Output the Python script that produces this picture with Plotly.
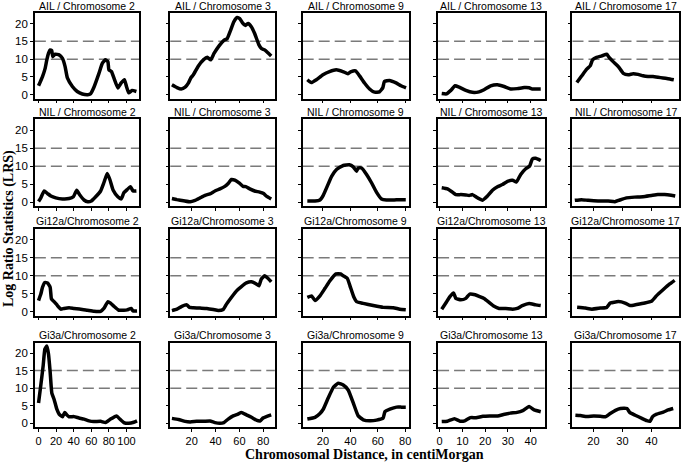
import plotly.graph_objects as go

# ---------------- data ----------------
row_labels = ["AIL / Chromosome ", "NIL / Chromosome ", "Gi12a/Chromosome ", "Gi3a/Chromosome "]
chromosomes = ["2", "3", "9", "13", "17"]
x_tickvals = [[0, 20, 40, 60, 80, 100], [20, 40, 60, 80], [20, 40, 60, 80], [0, 10, 20, 30, 40], [20, 30, 40]]
x_ranges = [[-4.2, 114.7], [2, 89.7], [5.2, 82.9], [-0.7, 46.1], [12.8, 49.5]]
y_tickvals = [0, 5, 10, 15, 20]
threshold_levels = [10, 15]

ail_chr2_x = [0, 4.5, 7.5, 9.4, 11.3, 13.2, 15, 16.2, 18.9, 23.4, 27.2, 30.2, 32.8, 38.5, 44, 49.8, 56, 59, 63, 68.7, 72.5, 76, 78.9, 80, 83, 85.7, 90.2, 94, 97.7, 100, 102.6, 106.4, 111.3]
ail_chr2_y = [2.5, 5.1, 7.4, 9.8, 11.6, 12.6, 12.4, 10.7, 11.4, 11.2, 10.2, 7.9, 4.7, 2.3, 0.9, 0.2, 0.0, 0.2, 2.1, 6.0, 8.8, 9.8, 9.3, 7.0, 6.5, 4.7, 1.9, 3.3, 4.2, 2.3, 0.5, 1.2, 0.9]
ail_chr3_x = [3.4, 7.6, 11.2, 14.5, 17.3, 19.2, 21.4, 25.6, 29.8, 33.1, 35.9, 38.7, 43.1, 47, 49.8, 52.6, 55.3, 58.1, 60.3, 62.6, 64.8, 67.3, 70, 72.8, 76.4, 78.4, 81.2, 83.9, 86.7]
ail_chr3_y = [2.8, 2.0, 1.6, 2.1, 3.3, 4.7, 5.6, 8.1, 9.8, 10.5, 9.8, 11.6, 13.8, 15.3, 15.8, 18.1, 20.5, 21.7, 21.4, 20.2, 19.5, 20.0, 19.1, 17.2, 14.0, 13.0, 12.6, 11.8, 10.9]
ail_chr9_x = [8.6, 11.5, 15.2, 20, 24.8, 29.7, 34.5, 38.2, 40.6, 43.8, 46.7, 50.3, 54, 57.6, 61.2, 63.6, 64.8, 68.5, 73.3, 76.9, 80.6]
ail_chr9_y = [4.2, 3.4, 4.2, 5.6, 6.5, 7.0, 6.5, 5.9, 6.5, 6.7, 5.3, 3.3, 1.6, 0.7, 0.8, 1.9, 3.7, 4.0, 3.3, 2.5, 1.9]
ail_chr13_x = [0.9, 3, 4.9, 6.8, 8.6, 11.5, 14.4, 17.3, 19.5, 22.4, 25.4, 28.3, 31.2, 34.1, 37.1, 39.3, 40.7, 44.4]
ail_chr13_y = [0.3, 0.2, 1.2, 2.5, 2.1, 1.2, 0.65, 0.8, 1.4, 2.5, 2.8, 2.3, 1.6, 1.7, 2.0, 1.95, 1.6, 1.6]
ail_chr17_x = [14.3, 16, 17.7, 18.9, 19.7, 21.1, 22.9, 24.6, 25.4, 26.8, 28.6, 30.3, 32, 33.7, 35.4, 37.1, 38.8, 40.5, 42.3, 44, 45.7, 47.7]
ail_chr17_y = [3.4, 5.3, 7.2, 8.1, 9.8, 10.5, 10.9, 11.4, 10.5, 9.3, 7.9, 6.0, 5.6, 5.9, 5.7, 5.3, 5.1, 5.1, 4.9, 4.7, 4.5, 4.2]

nil_chr2_x = [0, 2.6, 6.4, 10.2, 14, 19.6, 27.2, 34.7, 39.6, 43.4, 47.2, 51.7, 56, 60, 65, 70.6, 74.3, 78.1, 81.1, 84.9, 90.2, 94, 97, 100.8, 104.5, 107.5, 111.3]
nil_chr2_y = [0.2, 1.2, 3.1, 2.4, 1.7, 1.2, 0.9, 1.0, 1.5, 3.3, 1.9, 0.6, 0.1, 0.3, 1.5, 3.1, 5.4, 8.0, 6.3, 3.3, 1.5, 0.9, 2.6, 3.5, 4.3, 3.1, 3.1]
nil_chr3_x = [3.4, 7.6, 13.1, 18.7, 22.8, 27, 31.2, 35.3, 39.5, 43.7, 47.8, 50.6, 53.3, 56.2, 60.3, 63.1, 65.3, 68.7, 72.8, 77, 80.3, 82.6, 86.7]
nil_chr3_y = [1.0, 0.7, 0.4, 0.1, 0.5, 1.2, 1.9, 2.3, 3.1, 3.7, 4.4, 5.2, 6.3, 6.1, 5.2, 4.4, 4.3, 3.7, 3.1, 2.8, 2.4, 1.7, 0.9]
nil_chr9_x = [8.6, 14.2, 17.8, 20.2, 23.1, 26.3, 29.9, 34.8, 39.2, 42.1, 44.5, 45.7, 48.2, 51.8, 55.4, 59, 62.7, 66.3, 71.2, 76, 80.4]
nil_chr9_y = [0.3, 0.3, 0.6, 1.9, 4.4, 7.2, 9.1, 10.2, 10.4, 9.8, 8.6, 9.5, 9.5, 7.7, 5.4, 2.8, 0.9, 0.6, 0.6, 0.7, 0.7]
nil_chr13_x = [0.9, 3.4, 5.6, 7.1, 9.3, 11.5, 12.9, 14.4, 16.6, 18.8, 21, 23.2, 25.4, 27.6, 29.8, 32, 33.7, 35.6, 37.8, 39.5, 40.7, 42.2, 44.4]
nil_chr13_y = [4.0, 3.7, 2.8, 2.1, 2.1, 2.0, 1.85, 2.1, 1.2, 0.55, 1.7, 3.3, 4.3, 4.9, 5.8, 6.1, 5.6, 7.7, 9.3, 10.0, 12.0, 12.2, 11.6]
nil_chr17_x = [13.6, 15.9, 18.2, 21.6, 25.1, 27.4, 29.1, 31.4, 34.2, 37.1, 40, 42.2, 44.5, 46.8, 48.2]
nil_chr17_y = [0.5, 0.7, 0.5, 0.3, 0.3, 0.1, 0.6, 1.2, 1.4, 1.5, 1.85, 2.1, 2.1, 1.9, 1.7]

gi12a_chr2_x = [0, 2.6, 4.5, 7.2, 10.2, 13.2, 14.7, 17.7, 21.5, 25.3, 29, 34.7, 40.4, 47.9, 55.5, 63, 70.6, 74.3, 78.9, 81.9, 85.7, 91.3, 97, 100.8, 105.3, 107.5, 112]
gi12a_chr2_y = [3.1, 4.9, 6.8, 8.1, 8.0, 6.8, 3.5, 2.8, 1.7, 0.7, 0.9, 1.1, 0.9, 0.7, 0.4, 0.1, 0.1, 0.9, 2.8, 2.4, 1.5, 0.4, 0.4, 0.5, 0.9, 0.2, 0.2]
gi12a_chr3_x = [3.4, 7.6, 11.7, 15.9, 18.1, 21.4, 27, 32.6, 38.1, 42.3, 46.4, 49.2, 53.4, 57.6, 61.7, 65.9, 70.1, 74.2, 76.4, 78.4, 81.2, 83.9, 86.7]
gi12a_chr3_y = [0.3, 0.7, 1.5, 1.9, 1.2, 1.1, 1.0, 0.9, 0.6, 0.3, 0.6, 2.1, 4.0, 5.8, 7.0, 8.0, 8.3, 7.7, 7.2, 9.1, 10.0, 9.3, 8.3]
gi12a_chr9_x = [8.6, 11.7, 14.2, 17.8, 21.5, 25.1, 29.5, 32.9, 34.8, 37.7, 39.7, 42.6, 44.5, 49.4, 56.7, 63.9, 71.2, 76, 80.4]
gi12a_chr9_y = [4.0, 4.4, 3.1, 4.4, 6.5, 8.6, 10.5, 10.5, 10.0, 9.3, 7.2, 4.0, 2.8, 2.3, 1.7, 1.2, 1.1, 0.7, 0.55]
gi12a_chr13_x = [0.9, 2.7, 4.5, 6.1, 7.1, 9.3, 11.5, 13.2, 15.6, 17.6, 19.5, 21.7, 23.9, 26.1, 29, 32, 34.1, 36.3, 39.3, 42.2, 44.4]
gi12a_chr13_y = [0.7, 2.4, 4.2, 5.2, 3.7, 3.3, 3.7, 4.9, 4.7, 4.2, 3.7, 2.6, 1.5, 0.9, 0.9, 0.7, 0.9, 1.7, 2.3, 1.9, 1.7]
gi12a_chr17_x = [14.4, 17.2, 19.5, 22.4, 24.6, 25.8, 28.6, 30.9, 32.6, 34.9, 37.7, 40, 41.7, 44, 46.3, 48]
gi12a_chr17_y = [1.2, 1.0, 0.7, 1.0, 1.2, 2.4, 2.8, 2.4, 1.7, 2.0, 2.4, 2.9, 4.4, 6.1, 7.7, 8.7]

gi3a_chr2_x = [0, 2.6, 5.3, 7.2, 9.4, 11.3, 13.2, 15.1, 17.7, 20.8, 23.4, 27.2, 29.8, 32.1, 34.7, 40.4, 46, 51.7, 57.4, 63, 70.6, 76.2, 81.9, 88.7, 92.5, 97, 102.6, 108.3, 112]
gi3a_chr2_y = [5.8, 10.9, 16.5, 21.1, 22.0, 19.7, 14.6, 8.6, 6.8, 4.0, 2.6, 1.85, 3.1, 2.4, 1.85, 1.9, 1.5, 1.2, 0.7, 0.5, 0.55, 0.2, 1.2, 2.1, 1.2, 0.2, 0.0, 0.3, 0.7]
gi3a_chr3_x = [3.4, 9, 14.5, 18.7, 24.2, 29.8, 35.3, 39.5, 43.7, 47, 50.6, 54.8, 58.9, 61.7, 65.9, 70.1, 74.2, 77.6, 79.8, 83.1, 86.7]
gi3a_chr3_y = [1.4, 1.1, 0.55, 0.4, 0.55, 0.55, 0.65, 0.2, 0.0, 0.2, 1.2, 2.1, 2.6, 3.1, 2.4, 1.7, 0.9, 0.7, 1.5, 2.0, 2.4]
gi3a_chr9_x = [8.6, 14.2, 17.8, 20.2, 23.8, 27.5, 31.1, 34.8, 38.4, 42.1, 45.7, 49.4, 54.2, 59.1, 63.9, 65.2, 68.8, 73.7, 77.3, 80.4]
gi3a_chr9_y = [1.2, 1.7, 2.8, 4.0, 7.2, 10.2, 11.4, 10.9, 9.5, 5.8, 2.1, 1.0, 0.7, 0.9, 1.5, 3.3, 4.0, 4.6, 4.6, 4.6]
gi3a_chr13_x = [0.9, 3.4, 6.5, 9, 11, 13.5, 16, 19, 22, 25.5, 28, 31, 34, 36.5, 39.3, 41.5, 44.4]
gi3a_chr13_y = [0.5, 0.6, 1.3, 0.6, 0.7, 1.6, 1.6, 2.0, 2.1, 2.1, 2.5, 2.9, 3.1, 3.6, 4.8, 3.8, 3.3]
gi3a_chr17_x = [13.8, 15.5, 17.8, 20.1, 22.4, 24.1, 25.8, 27.6, 29.3, 31.6, 32.5, 34.4, 36.7, 38.4, 39.5, 40.4, 41.8, 44.1, 45.8, 47.5]
gi3a_chr17_y = [2.3, 2.2, 1.9, 2.1, 2.0, 1.85, 2.8, 3.7, 4.2, 4.2, 3.1, 2.3, 1.4, 0.75, 0.55, 1.9, 2.6, 3.2, 3.8, 4.2]

series = [
    [(ail_chr2_x, ail_chr2_y), (ail_chr3_x, ail_chr3_y), (ail_chr9_x, ail_chr9_y), (ail_chr13_x, ail_chr13_y), (ail_chr17_x, ail_chr17_y)],
    [(nil_chr2_x, nil_chr2_y), (nil_chr3_x, nil_chr3_y), (nil_chr9_x, nil_chr9_y), (nil_chr13_x, nil_chr13_y), (nil_chr17_x, nil_chr17_y)],
    [(gi12a_chr2_x, gi12a_chr2_y), (gi12a_chr3_x, gi12a_chr3_y), (gi12a_chr9_x, gi12a_chr9_y), (gi12a_chr13_x, gi12a_chr13_y), (gi12a_chr17_x, gi12a_chr17_y)],
    [(gi3a_chr2_x, gi3a_chr2_y), (gi3a_chr3_x, gi3a_chr3_y), (gi3a_chr9_x, gi3a_chr9_y), (gi3a_chr13_x, gi3a_chr13_y), (gi3a_chr17_x, gi3a_chr17_y)],
]

# ---------------- layout geometry (pixels) ----------------
W, H = 685, 464
col_px = [(34, 139), (170, 275), (303, 410), (439, 546), (574, 681)]
row_px = [(13, 99), (120, 207), (230, 317), (344, 429)]
title_offsets = [7, 8, 8, 8]

def fx(px):
    return px / W

def fy(py):
    return 1 - py / H

fig = go.Figure()
layout = dict(
    width=W, height=H,
    margin=dict(l=0, r=0, t=0, b=0),
    paper_bgcolor="white", plot_bgcolor="white",
    showlegend=False,
    font=dict(family="Liberation Sans, Arial, sans-serif", size=11, color="black"),
)
annotations = []
shapes = []

for i in range(4):
    for j in range(5):
        idx = i * 5 + j + 1
        s = "" if idx == 1 else str(idx)
        xs, ys = series[i][j]
        fig.add_trace(go.Scatter(
            x=xs, y=ys, mode="lines",
            line=dict(color="black", width=3.5, shape="spline", smoothing=0.4),
            xaxis="x" + s, yaxis="y" + s, hoverinfo="skip",
        ))
        x0, x1 = col_px[j]
        y0, y1 = row_px[i]
        layout["xaxis" + s] = dict(
            domain=[fx(x0), fx(x1)], anchor="y" + s, range=x_ranges[j],
            tickvals=x_tickvals[j], showticklabels=(i == 3), tickangle=0,
            ticks="outside", ticklen=3, tickwidth=1, tickcolor="black",
            showline=True, linecolor="black", linewidth=1.5, mirror=True,
            showgrid=False, zeroline=False, fixedrange=True,
            tickfont=dict(size=11),
        )
        layout["yaxis" + s] = dict(
            domain=[fy(y1), fy(y0)], anchor="x" + s, range=[-1.1, 23],
            tickvals=y_tickvals, showticklabels=(j == 0),
            ticks="outside", ticklen=3, tickwidth=1, tickcolor="black",
            showline=True, linecolor="black", linewidth=1.5, mirror=True,
            showgrid=False, zeroline=False, fixedrange=True,
            tickfont=dict(size=11.5),
        )
        for lv in threshold_levels:
            shapes.append(dict(
                type="line", xref="x" + s + " domain", x0=0, x1=1,
                yref="y" + s, y0=lv, y1=lv, layer="below",
                line=dict(color="#7a7a7a", width=1.5, dash="11px,5px"),
            ))
        annotations.append(dict(
            text=row_labels[i] + chromosomes[j], xref="paper", yref="paper",
            x=fx((x0 + x1) / 2), y=fy(y0 - title_offsets[i]), xanchor="center", yanchor="middle",
            showarrow=False, font=dict(size=10.5, color="black"), borderpad=0,
        ))

annotations.append(dict(
    text="<b>Chromosomal Distance, in centiMorgan</b>", xref="paper", yref="paper",
    x=fx(365), y=fy(456), xanchor="center", yanchor="middle", showarrow=False,
    font=dict(family="Liberation Serif, Times New Roman, serif", size=14, color="black"),
    borderpad=0,
))
annotations.append(dict(
    text="<b>Log Ratio Statistics (LRS)</b>", xref="paper", yref="paper",
    x=fx(8), y=fy(229), xanchor="center", yanchor="middle", showarrow=False, textangle=-90,
    font=dict(family="Liberation Serif, Times New Roman, serif", size=14, color="black"),
))

layout["annotations"] = annotations
layout["shapes"] = shapes
fig.update_layout(**layout)
fig.write_html(
    "out.html",
    config={"displayModeBar": False},
    post_script="document.body.style.margin='0';document.body.style.overflow='hidden';",
)
